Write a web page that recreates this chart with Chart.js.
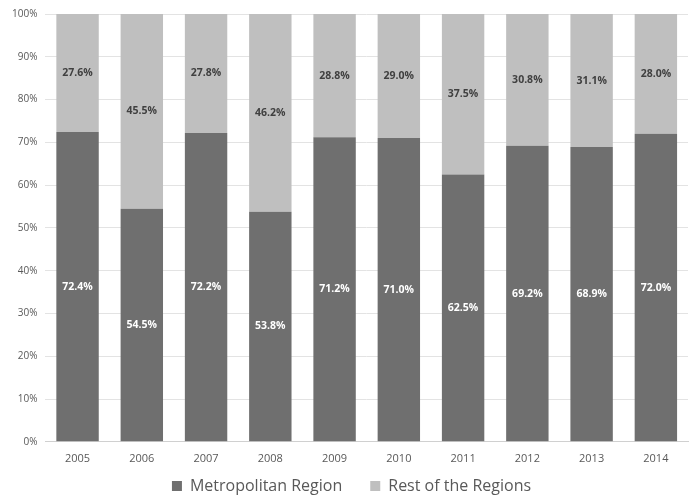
<!DOCTYPE html>
<html>
<head>
<meta charset="utf-8">
<script src="https://cdn.jsdelivr.net/npm/chart.js@4"></script>
<style>
  html, body { margin: 0; padding: 0; background: #fff; }
  #wrap { width: 694px; height: 499px; }
</style>
</head>
<body>
<div id="wrap"><canvas id="regionChart"></canvas></div>
<script>
// Chart data (shares in %)
const years = ['2005', '2006', '2007', '2008', '2009', '2010', '2011', '2012', '2013', '2014'];
const metropolitan = [72.4, 54.5, 72.2, 53.8, 71.2, 71.0, 62.5, 69.2, 68.9, 72.0];
const restOfRegions = [27.6, 45.5, 27.8, 46.2, 28.8, 29.0, 37.5, 30.8, 31.1, 28.0];

const fontFamily = "'Open Sans', 'Noto Sans', sans-serif";

// draws the value in the middle of every bar segment
const segmentLabels = {
  id: 'segmentLabels',
  afterDatasetsDraw(chart) {
    const ctx = chart.ctx;
    ctx.save();
    ctx.font = 'bold 10.5px ' + fontFamily;
    ctx.textAlign = 'center';
    ctx.textBaseline = 'middle';
    chart.data.datasets.forEach((ds, i) => {
      const meta = chart.getDatasetMeta(i);
      ctx.fillStyle = ds.labelColor;
      meta.data.forEach((bar, j) => {
        const mid = (bar.y + bar.base) / 2;
        ctx.fillText(ds.data[j].toFixed(1) + '%', bar.x, mid);
      });
    });
    ctx.restore();
  }
};

// legend keeps wide item spacing but takes less height at the bottom
const tightLegend = {
  id: 'tightLegend',
  beforeInit(chart) {
    const fit = chart.legend.fit;
    chart.legend.fit = function () {
      fit.call(this);
      this.height = 24;
    };
  },
  afterLayout(chart) {
    const lg = chart.legend;
    lg.top -= 25;
    lg.left += 11;
  }
};

const ctx = document.getElementById('regionChart').getContext('2d');
new Chart(ctx, {
  type: 'bar',
  data: {
    labels: years,
    datasets: [
      {
        label: 'Metropolitan Region',
        data: metropolitan,
        backgroundColor: '#6f6f6f',
        labelColor: '#ffffff'
      },
      {
        label: 'Rest of the Regions',
        data: restOfRegions,
        backgroundColor: '#bfbfbf',
        labelColor: '#404040'
      }
    ]
  },
  options: {
    responsive: true,
    maintainAspectRatio: false,
    animation: false,
    layout: { padding: { top: 0, right: 6, left: 4, bottom: 0 } },
    datasets: {
      bar: { barPercentage: 0.66, categoryPercentage: 1.0 }
    },
    scales: {
      x: {
        stacked: true,
        grid: { display: false, drawTicks: false },
        border: { color: '#d0d0d0' },
        ticks: { color: '#595959', font: { family: fontFamily, size: 11 }, padding: 10 }
      },
      y: {
        stacked: true,
        min: 0,
        max: 100,
        ticks: {
          stepSize: 10,
          color: '#595959',
          font: { family: fontFamily, size: 10 },
          padding: 8,
          callback: v => v + '%'
        },
        grid: { color: '#e3e3e3', drawTicks: false },
        border: { display: false }
      }
    },
    plugins: {
      legend: {
        position: 'bottom',
        labels: {
          color: '#595959',
          font: { family: fontFamily, size: 16 },
          boxWidth: 10,
          boxHeight: 10,
          padding: 28
        }
      },
      tooltip: { enabled: false }
    }
  },
  plugins: [segmentLabels, tightLegend]
});
</script>
</body>
</html>
